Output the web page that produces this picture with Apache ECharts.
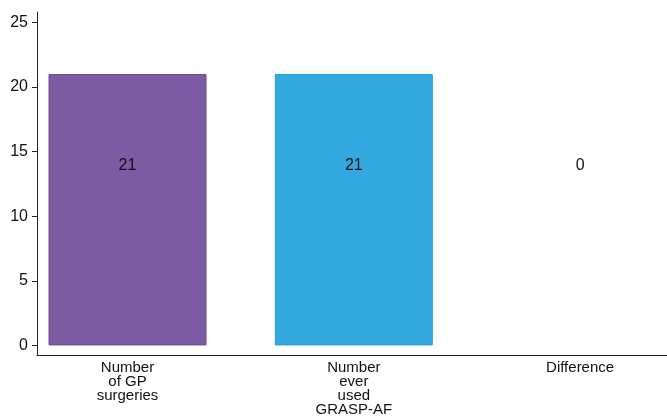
<!DOCTYPE html>
<html><head><meta charset="utf-8">
<script src="https://cdn.jsdelivr.net/npm/echarts@6/dist/echarts.min.js"></script>
<style>html,body{margin:0;padding:0;background:#fff}#c{width:667px;height:416px}</style>
</head><body><div id="c"></div>
<script>
const categories = ['Number\nof GP\nsurgeries', 'Number\never\nused\nGRASP-AF', 'Difference'];
const values = [21, 21, 0];
const barColors = ['#7B5CA2', '#33A9E0', '#ffffff'];
const borderColors = ['#6A4C90', '#2E9BD0', '#ffffff'];
const yTicks = [0, 5, 10, 15, 20, 25];
const xPos = [1, 2, 3];

const chart = echarts.init(document.getElementById('c'), null, {renderer: 'canvas'});
chart.setOption({
  animation: false,
  grid: {left: 37, right: 0, top: 12, bottom: 61, outerBoundsMode: 'none', containLabel: false},
  xAxis: {
    type: 'value', min: 0.6, max: 3.384,
    axisLine: {show: true, onZero: false, lineStyle: {color: '#222', width: 1}},
    axisTick: {show: false},
    splitLine: {show: false},
    axisLabel: {
      customValues: xPos,
      formatter: v => categories[Math.round(v) - 1] || '',
      color: '#111', fontFamily: 'Liberation Sans, Arial', fontSize: 15, lineHeight: 14,
      margin: 6, align: 'center', verticalAlign: 'top'
    }
  },
  yAxis: {
    type: 'value', min: -0.74, max: 25.8,
    axisLine: {show: true, onZero: false, lineStyle: {color: '#222', width: 1}},
    axisTick: {show: true, length: 5, customValues: yTicks, lineStyle: {color: '#222'}},
    splitLine: {show: false},
    axisLabel: {
      customValues: yTicks, color: '#111', fontFamily: 'Liberation Sans, Arial', fontSize: 16, margin: 9
    }
  },
  series: [{
    type: 'bar',
    barWidth: 158,
    data: values.map((v, i) => ({
      value: [xPos[i], v],
      itemStyle: {color: barColors[i], borderColor: borderColors[i], borderWidth: i < 2 ? 1 : 0}
    })),
    label: {
      show: true, position: 'insideBottom', distance: 0, offset: [0, -172],
      formatter: p => String(p.value[1]),
      color: '#111', fontFamily: 'Liberation Sans, Arial', fontSize: 16
    }
  }]
});
</script></body></html>
